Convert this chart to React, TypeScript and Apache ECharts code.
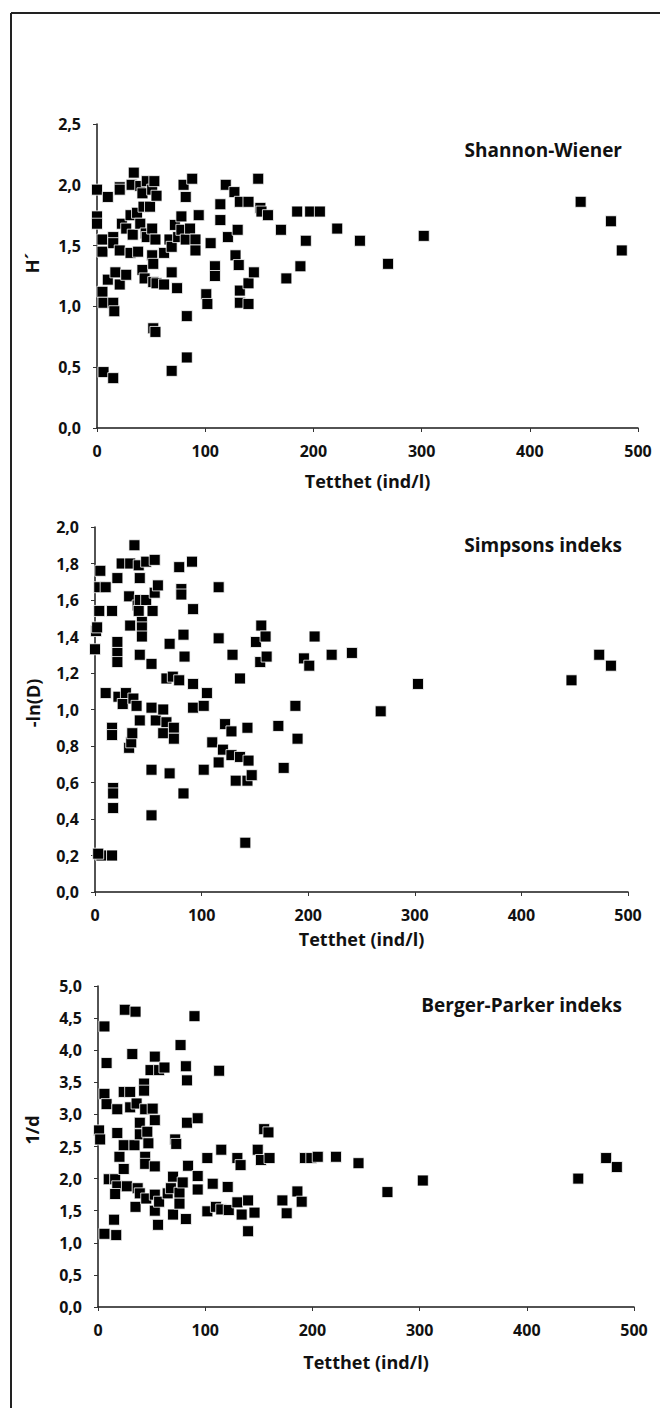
import React, { useEffect, useRef } from "react";
import * as echarts from "echarts";

// Panel 1: Shannon-Wiener (H')
const shannonX = [0,0,0,5,5,5,6,6,10,10,15,15,15,17,16,15,21,21,21,23,21,27,27,31,31,32,34,33,37,38,40,40,42,42,43,44,45,46,46,49,51,51,51,52,52,53,55,54,52,54,55,62,62,67,69,69,69,74,72,75,78,78,80,82,82,83,83,86,88,91,91,94,101,102,105,109,109,114,114,119,121,127,128,130,131,132,132,132,140,140,140,145,149,151,152,158,170,175,185,188,193,197,206,222,243,269,302,447,475,485];
const shannonY = [1.96,1.74,1.68,1.55,1.45,1.12,1.03,0.46,1.90,1.22,1.57,1.52,1.03,1.28,0.96,0.41,1.18,1.98,1.96,1.68,1.46,1.26,1.64,1.75,1.44,2.00,2.10,1.59,1.77,1.45,1.99,1.68,1.30,1.93,1.82,1.23,1.60,2.03,1.57,1.82,1.96,1.64,1.42,1.35,1.20,2.03,1.91,1.55,0.82,0.79,1.19,1.18,1.44,1.55,1.49,1.28,0.47,1.15,1.67,1.57,1.74,1.63,2.00,1.90,1.55,0.92,0.58,1.64,2.05,1.55,1.46,1.75,1.10,1.02,1.52,1.33,1.25,1.84,1.71,2.00,1.57,1.94,1.42,1.63,1.34,1.86,1.13,1.03,1.86,1.19,1.02,1.28,2.05,1.81,1.78,1.75,1.63,1.23,1.78,1.33,1.54,1.78,1.78,1.64,1.54,1.35,1.58,1.86,1.70,1.46];

// Panel 2: Simpsons indeks (-ln(D))
const simpsonX = [5,4,10,4,16,1,2,0,10,16,16,21,25,21,21,21,17,17,17,6,16,3,22,29,26,32,33,37,32,34,35,36,39,33,41,42,40,42,41,42,44,44,44,42,48,48,54,56,56,59,53,53,53,53,57,64,67,64,70,70,74,74,67,73,79,79,81,81,83,84,91,92,92,83,92,102,105,102,110,116,116,116,120,122,128,128,129,132,136,136,143,144,143,147,141,151,156,160,155,161,172,177,188,190,196,201,206,222,241,268,303,447,473,484];
const simpsonY = [1.76,1.67,1.67,1.54,1.54,1.43,1.45,1.33,1.09,0.90,0.86,1.72,1.80,1.37,1.31,1.26,0.57,0.54,0.46,0.20,0.20,0.21,1.07,1.09,1.03,1.62,1.80,1.90,0.79,0.82,0.87,1.06,1.02,1.46,1.79,1.72,1.57,1.60,1.54,1.30,1.48,1.45,1.40,0.94,1.81,1.60,1.54,1.82,1.64,1.68,1.25,1.01,0.67,0.42,0.94,1.00,0.93,0.87,1.36,0.65,0.90,0.84,1.17,1.18,1.16,1.78,1.66,1.63,1.41,1.29,1.81,1.55,1.14,0.54,1.01,1.02,1.09,0.67,0.82,1.67,1.39,0.71,0.78,0.92,0.88,0.75,1.30,0.61,1.17,0.74,0.90,0.72,0.61,0.64,0.27,1.37,1.46,1.40,1.26,1.29,0.91,0.68,1.02,0.84,1.28,1.24,1.40,1.30,1.31,0.99,1.14,1.16,1.30,1.24];

// Panel 3: Berger-Parker indeks (1/d)
const bergerX = [1,2,6,8,6,8,6,10,16,18,16,15,17,18,18,20,24,24,25,24,27,30,30,32,34,35,35,36,37,39,39,39,43,43,44,44,44,46,47,45,49,51,53,53,53,53,53,56,57,62,57,65,68,70,70,72,73,77,76,76,79,82,83,82,83,84,90,93,93,93,102,102,107,110,113,115,115,121,122,130,130,133,134,140,140,146,149,152,155,159,160,172,176,186,190,193,199,205,222,243,270,303,448,474,484];
const bergerY = [2.75,2.61,4.37,3.80,3.32,3.16,1.14,1.99,1.99,1.88,1.76,1.36,1.12,2.71,3.08,2.34,2.15,3.35,4.63,2.52,1.88,3.35,3.11,3.94,2.52,4.60,1.56,3.17,1.85,1.77,2.87,2.69,3.48,3.37,3.08,2.34,2.23,2.73,2.55,1.69,3.69,3.09,3.90,2.91,2.19,1.50,1.75,1.28,3.69,3.73,1.64,1.77,1.85,2.03,1.44,2.61,2.54,4.08,1.78,1.61,1.94,3.75,3.53,1.37,2.87,2.20,4.53,2.94,2.04,1.83,2.32,1.49,1.92,1.56,3.68,2.45,1.52,1.87,1.51,2.32,1.63,2.21,1.44,1.66,1.18,1.47,2.45,2.29,2.77,2.72,2.32,1.66,1.46,1.80,1.64,2.32,2.32,2.34,2.34,2.24,1.79,1.97,2.00,2.32,2.18];

const titles = ["Shannon-Wiener", "Simpsons indeks", "Berger-Parker indeks"];
const yNames = ["H´", "-ln(D)", "1/d"];
const xName = "Tetthet (ind/l)";
const xTicks = { min: 0, max: 500, interval: 100 };
const yRanges = [
  { min: 0, max: 2.5, interval: 0.5 },
  { min: 0, max: 2.0, interval: 0.2 },
  { min: 0, max: 5.0, interval: 0.5 },
];

const FONT = "'Open Sans', 'Noto Sans', sans-serif";

const zip = (xs: number[], ys: number[]) => xs.map((x, i) => [x, ys[i]]);

export default function App() {
  const ref = useRef<HTMLDivElement>(null);
  useEffect(() => {
    document.body.style.margin = "0";
    if (!ref.current) return;
    const chart = echarts.init(ref.current, undefined, { renderer: "svg" });
    const grids = [
      { left: 97, top: 124, width: 541, height: 304 },
      { left: 95, top: 527, width: 533, height: 365 },
      { left: 98, top: 986, width: 536, height: 321 },
    ];
    const nameGaps = [44, 38, 46];
    const yNamePos = [
      { x: 32, y: 263 },
      { x: 33, y: 703 },
      { x: 32, y: 1130 },
    ];
    const titlePos = [
      { x: 622, y: 150 },
      { x: 622, y: 545 },
      { x: 622, y: 1005 },
    ];
    const datasets = [
      zip(shannonX, shannonY),
      zip(simpsonX, simpsonY),
      zip(bergerX, bergerY),
    ];
    const axisLine = { show: true, lineStyle: { color: "#1a1a1a", width: 1.5 } };
    const axisTick = { show: true, length: 4, lineStyle: { color: "#333", width: 1 } };
    const labelStyle = { fontSize: 16, fontWeight: "bold" as const, color: "#111", fontFamily: FONT };
    const option: any = {
      animation: false,
      backgroundColor: "#fff",
      grid: grids.map((g) => ({ ...g, containLabel: false })),
      xAxis: grids.map((_, i) => ({
        type: "value",
        gridIndex: i,
        ...xTicks,
        axisLine,
        axisTick,
        splitLine: { show: false },
        axisLabel: { ...labelStyle, margin: 15 },
        name: xName,
        nameLocation: "middle",
        nameGap: nameGaps[i],
        nameTextStyle: { fontSize: 18, fontWeight: "bold", color: "#111", fontFamily: FONT },
      })),
      yAxis: grids.map((_, i) => ({
        type: "value",
        gridIndex: i,
        ...yRanges[i],
        axisLine,
        axisTick,
        splitLine: { show: false },
        axisLabel: { ...labelStyle, margin: 16, formatter: (v: number) => v.toFixed(1).replace(".", ",") },
      })),
      series: datasets.map((d, i) => ({
        type: "scatter",
        xAxisIndex: i,
        yAxisIndex: i,
        data: d,
        symbol: "rect",
        symbolSize: 11,
        itemStyle: { color: "#000", borderColor: "#fff", borderWidth: 0.8, opacity: 1 },
        emphasis: { disabled: true },
      })),
      graphic: [
        { type: "line", shape: { x1: 11, y1: 13, x2: 660, y2: 13 }, style: { stroke: "#222", lineWidth: 2 } },
        { type: "line", shape: { x1: 11, y1: 13, x2: 11, y2: 1408 }, style: { stroke: "#222", lineWidth: 2 } },
        ...titles.map((t, i) => ({
          type: "text",
          x: titlePos[i].x,
          y: titlePos[i].y,
          style: {
            text: t,
            fontSize: 19,
            fontWeight: "bold",
            fontFamily: FONT,
            fill: "#111",
            align: "right",
            verticalAlign: "middle",
          },
        })),
        ...yNames.map((t, i) => ({
          type: "text",
          x: yNamePos[i].x,
          y: yNamePos[i].y,
          rotation: Math.PI / 2,
          style: {
            text: t,
            fontSize: 18,
            fontWeight: "bold",
            fontFamily: FONT,
            fill: "#111",
            align: "center",
            verticalAlign: "middle",
          },
        })),
      ],
    };
    chart.setOption(option);
    return () => chart.dispose();
  }, []);
  return (
    <div
      ref={ref}
      style={{ position: "absolute", left: 0, top: 0, width: 660, height: 1408, background: "#fff" }}
    />
  );
}
